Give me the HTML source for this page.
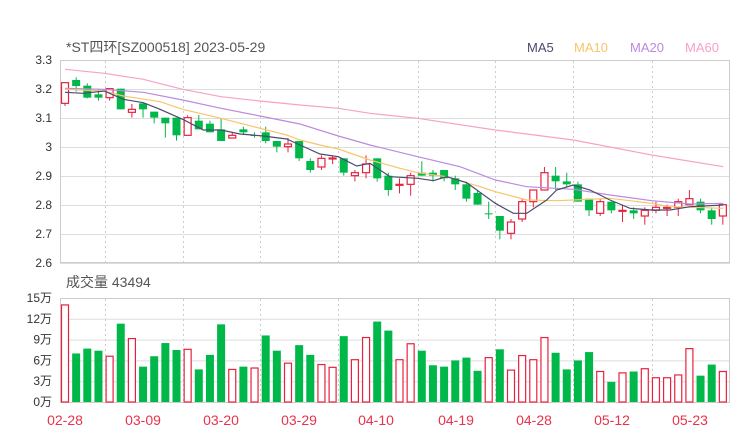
<!DOCTYPE html>
<html><head><meta charset="utf-8"><style>
html,body{margin:0;padding:0;background:#fff;width:740px;height:440px;overflow:hidden}
svg text{font-family:"Liberation Sans","Noto Sans CJK SC",sans-serif}
</style></head><body>
<svg id="s" width="740" height="440" xmlns="http://www.w3.org/2000/svg">
<text x="66" y="52" font-size="14" fill="#555">*ST四环[SZ000518] 2023-05-29</text>
<text x="527" y="52" font-size="13" fill="#4b4a6e">MA5</text>
<text x="574" y="52" font-size="13" fill="#f8c56a">MA10</text>
<text x="630" y="52" font-size="13" fill="#b98be0">MA20</text>
<text x="685" y="52" font-size="13" fill="#f7a1c8">MA60</text>
<text x="66" y="287" font-size="14" fill="#555">成交量 43494</text>
<g id="g"></g>
</svg>
<script>
var g=document.getElementById('g'),h='';
function L(x1,y1,x2,y2,c,d){h+='<line x1="'+x1+'" y1="'+y1+'" x2="'+x2+'" y2="'+y2+'" stroke="'+c+'" stroke-width="1"'+(d?' stroke-dasharray="2,3"':'')+'/>';}
function T(x,y,s,c,a,fs){h+='<text x="'+x+'" y="'+y+'" font-size="'+(fs||12)+'" fill="'+c+'" text-anchor="'+(a||'end')+'">'+s+'</text>';}
var py=['3.3','3.2','3.1','3','2.9','2.8','2.7','2.6'];
for(var i=0;i<8;i++){var y=60+i*29;L(60,y+.5,730,y+.5,'#ddd');T(52,y+4,py[i],'#333');}
var vl=['15万','12万','9万','6万','3万','0万'];
for(var i=0;i<6;i++){var y=298+i*20.8;L(60,y+.5,730,y+.5,'#ddd');T(52,y+4,vl[i],'#333');}
[105,183,260,338,418,495,573,652].forEach(function(x){L(x+.5,61,x+.5,262,'#ccc',1);L(x+.5,299,x+.5,401,'#ccc',1);});
h+='<rect x="60.5" y="60.5" width="669" height="202" fill="none" stroke="#ccc"/>';
h+='<rect x="60.5" y="298.5" width="669" height="104" fill="none" stroke="#ccc"/>';
var dl=[['02-28',65],['03-09',143],['03-20',221],['03-29',299],['04-10',376],['04-19',456],['04-28',534],['05-12',612],['05-23',690]];
dl.forEach(function(d){T(d[1],425,d[0],'#e8334a','middle',14);});
// candles: color, bodyTop, bodyBot, wickTop, wickBot (zoom coords)
var C=[['r',158,220,158,228],['g',150,168,142,185],['g',167,203,160,205],['g',193,203,178,212],['r',176,203,176,212],['g',176,238,176,238],['r',238,247,222,263],['g',220,238,220,263],['g',245,263,245,280],['g',263,280,263,323],['g',263,316,263,332],['r',263,316,256,316],['g',272,298,255,298],['g',281,307,272,307],['g',298,333,264,333],['r',316,324,307,324],['g',298,307,290,315],['g',315,316,307,323],['g',307,333,290,340],['g',333,350,333,367],['r',342,350,324,367],['g',333,385,333,393],['g',393,420,385,428],['r',385,411,376,420],['r',384,386,376,402],['g',385,428,385,437],['r',428,437,420,454],['r',402,428,376,445],
['g',385,445,385,455],['g',437,480,428,497],['r',463,464,445,490],['r',437,463,428,497],['g',428,437,394,437],['g',428,437,420,454],['g',420,445,420,454],['g',445,463,437,480],['g',463,506,455,515],['g',489,524,480,524],['g',550,551,515,567],['g',558,602,558,628],['r',576,610,567,628],['r',515,567,506,576],['r',480,515,480,532],['r',428,480,411,480],['g',437,454,411,480],['g',454,463,428,472],['g',463,515,455,515],['g',506,541,506,558],['r',515,550,506,558],['g',515,541,515,550],['r',541,542,524,576],['g',541,550,532,567],['r',541,558,532,584],['r',532,541,515,550],['r',532,533,524,558],['r',515,532,506,558],['r',506,524,480,524],['g',515,541,506,550],['g',541,567,532,584],['r',524,558,524,584]];
var V=[14,7,7.7,7.4,6.6,11.3,9.15,5.1,6.6,8.5,7.5,7.6,4.7,6.8,11.2,4.7,5.1,4.9,9.6,7.4,5.6,8.2,6.8,5.4,5,9.5,6.1,9.3,11.6,10.3,6.1,8.4,7.4,5.3,5.1,6,6.4,4.5,6.4,7.6,4.6,6.7,6.1,9.3,7.1,4.7,6,7.2,4.4,2.9,4.2,4.4,4.8,3.5,3.5,3.9,7.7,3.8,5.4,4.4];
var vc=['r','g','g','g','r','g','r','g','g','g','g','r','g','g','g','r','g','r','g','g','r','g','g','r','r','g','r','r','g','g','r','r','g','g','g','g','g','g','r','g','r','r','r','r','g','g','g','g','r','g','r','g','r','r','r','r','r','g','g','r'];
var Y=function(z){return 30+z/3;};
var R='#e8223e',G='#00b84a';
for(var i=0;i<60;i++){var x=65+i*11.15,c=C[i],col=c[0]=='r'?R:G;
 L(x,Y(c[3]),x,Y(c[4]),col);
 var t=Y(c[1]),b=Y(c[2]);if(b-t<1)b=t+1;
 if(c[0]=='r')h+='<rect x="'+(x-3.5)+'" y="'+t+'" width="7" height="'+(b-t)+'" fill="#fff" stroke="'+R+'" stroke-width="1.2"/>';
 else h+='<rect x="'+(x-4)+'" y="'+t+'" width="8" height="'+(b-t)+'" fill="'+G+'"/>';
 var vh=V[i]*20.8/3,vy=402-vh,cc=vc[i]=='r'?R:G;
 if(vc[i]=='r')h+='<rect x="'+(x-3.5)+'" y="'+vy+'" width="7" height="'+vh+'" fill="#fff" stroke="'+cc+'" stroke-width="1.2"/>';
 else h+='<rect x="'+(x-4)+'" y="'+vy+'" width="8" height="'+vh+'" fill="'+cc+'"/>';
}
function P(a,b,col){var pts=a.map(function(p){return (p[0]/3)+','+Y(p[1]);}).concat(b.map(function(p){return (370+p[0]/3)+','+Y(p[1]);}));
 h+='<polyline points="'+pts.join(' ')+'" fill="none" stroke="'+col+'" stroke-width="1.2"/>';}
P([[195,118],[313,130],[430,148],[548,178],[663,200],[780,213],[900,225],[1015,235],[1110,250]],[[143,265],[376,300],[610,330],[845,375],[1060,410]],'#f7a1c8');
P([[195,175],[313,178],[430,187],[548,210],[663,235],[780,258],[900,282],[1015,318],[1110,345]],[[143,380],[270,410],[376,450],[470,470],[610,478],[720,495],[845,512],[960,522],[1060,520]],'#b98be0');
P([[195,178],[313,183],[370,198],[480,215],[548,238],[663,265],[780,295],[860,315],[900,330],[960,345],[1015,357],[1110,390]],[[90,415],[143,428],[230,440],[330,470],[376,485],[470,510],[560,512],[610,510],[720,505],[845,520],[900,530],[1060,535]],'#f8c56a');
P([[195,187],[250,190],[313,183],[370,208],[430,218],[480,238],[548,268],[610,300],[663,300],[720,312],[790,318],[860,327],[900,345],[960,372],[1015,380],[1070,408],[1110,400]],[[60,440],[143,445],[190,452],[230,440],[290,458],[376,520],[430,550],[470,550],[530,510],[560,480],[610,465],[660,480],[720,510],[780,535],[845,540],[900,540],[960,530],[1060,525]],'#4b4a6e');
g.innerHTML=h;
</script>
</body></html>
